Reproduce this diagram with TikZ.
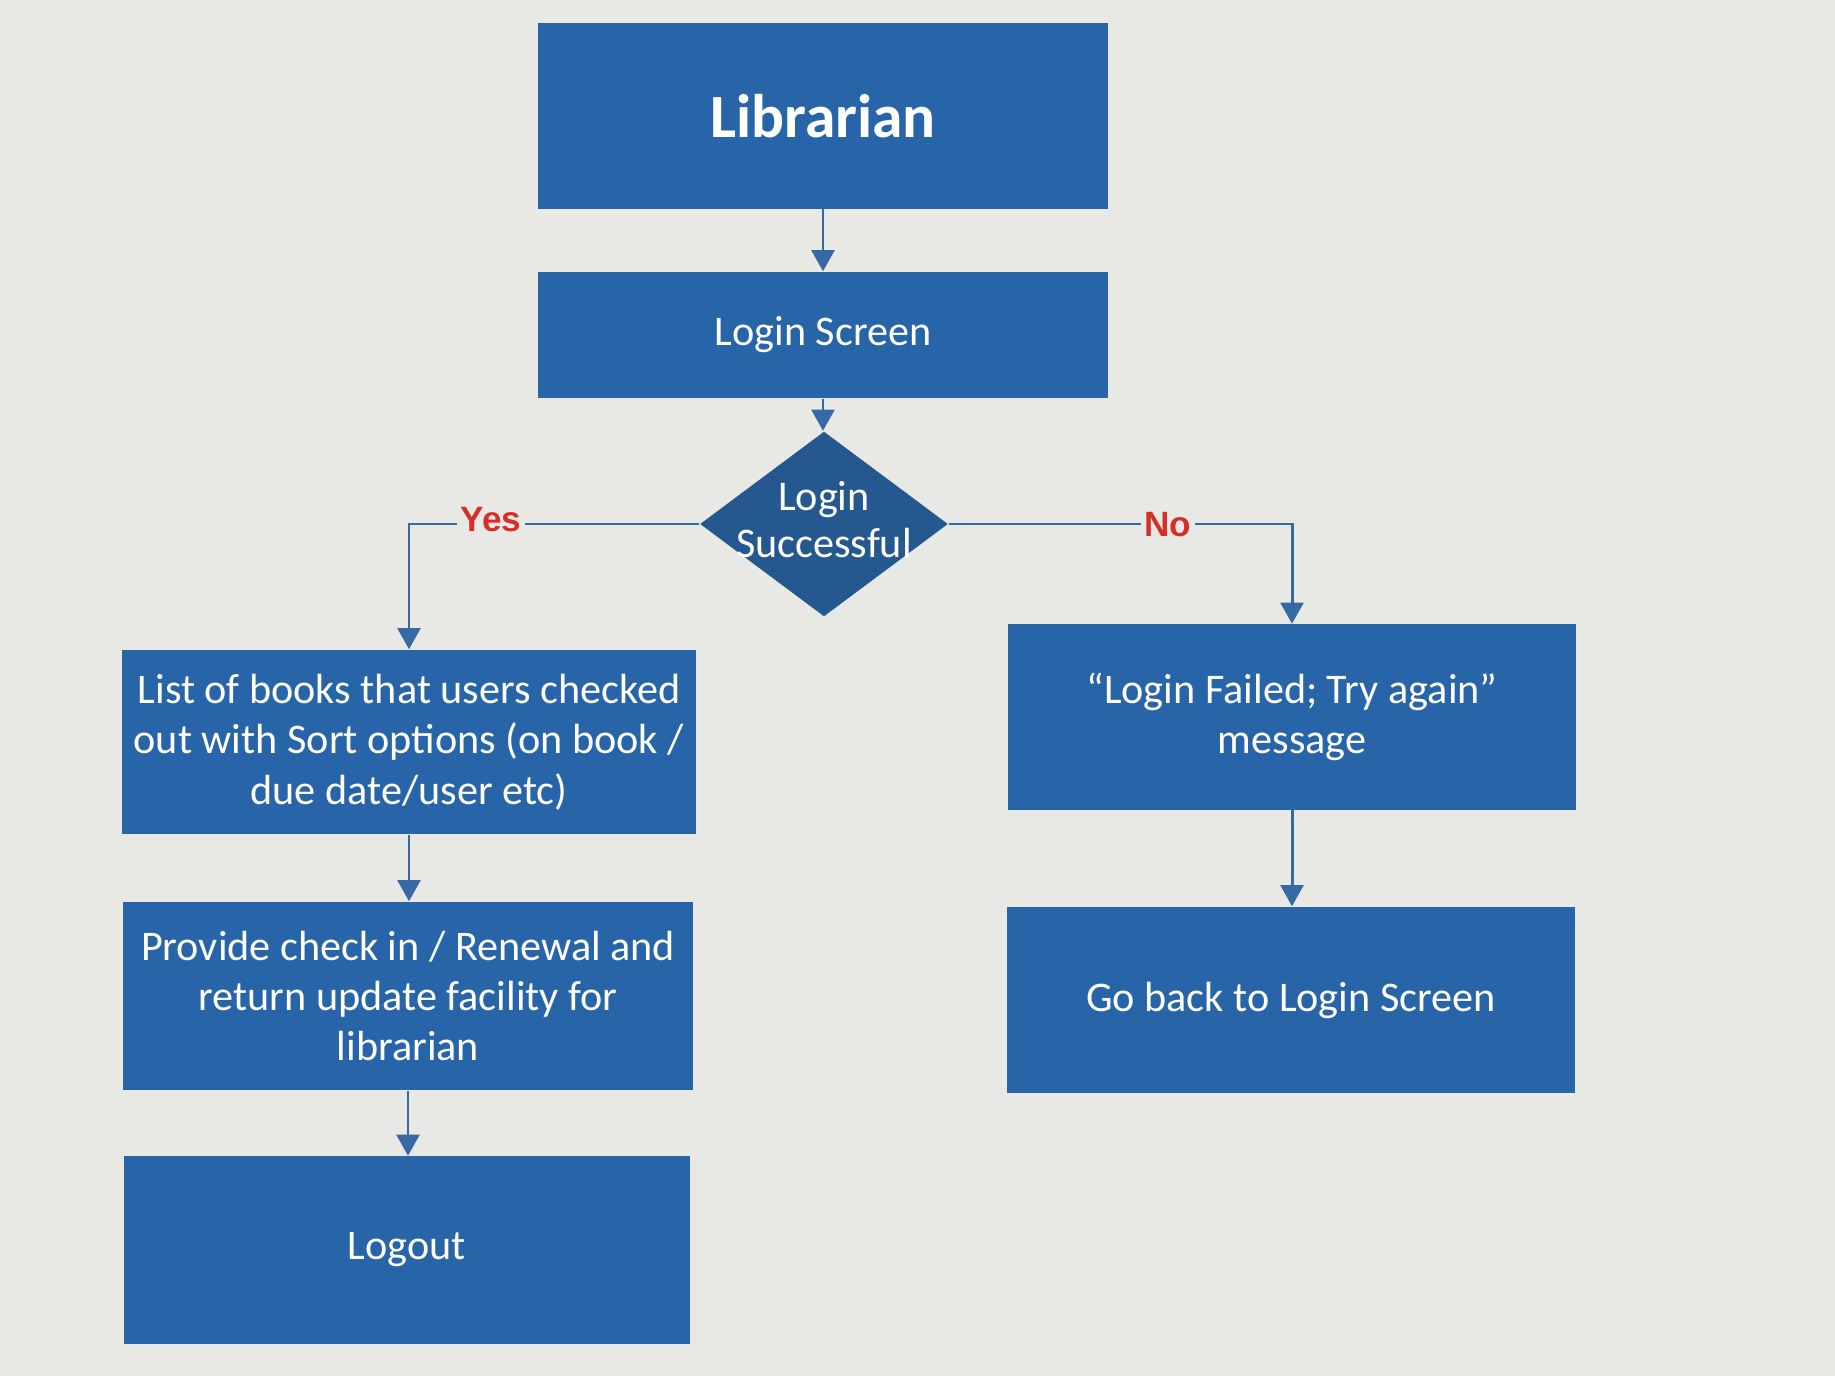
\documentclass[tikz,border=0pt]{standalone}
\usepackage{fontspec}
\setmainfont{Carlito}
\newfontfamily\labfont{Liberation Sans}
\usetikzlibrary{shapes.geometric,arrows.meta}
\definecolor{bgc}{RGB}{232,232,228}
\definecolor{boxc}{RGB}{40,100,168}
\definecolor{diac}{RGB}{36,88,142}
\definecolor{linec}{RGB}{55,105,165}
\definecolor{redc}{RGB}{212,48,40}
\tikzset{
  box/.style={draw=none, fill=boxc, text=white, align=center, inner sep=0pt,
    font=\fontsize{12}{14.3}\selectfont},
  dia/.style={diamond, fill=diac, text=white, inner sep=0pt,
    minimum width=2.48cm, minimum height=1.85cm,
    font=\fontsize{12}{14.3}\selectfont},
  conn/.style={draw=linec, line width=0.85pt, -{Triangle[width=6.5pt,length=6pt]}},
  lab/.style={fill=bgc, text=redc, inner sep=1pt, font=\labfont\bfseries\fontsize{10}{12}\selectfont}
}
\begin{document}
\begin{tikzpicture}[x=0.01cm,y=-0.01cm]
\fill[bgc] (0,0) rectangle (1835,1376);
\useasboundingbox (0,0) rectangle (1835,1376);

\node[box, minimum width=5.70cm, minimum height=1.85cm, font=\bfseries\fontsize{17.5}{20}\selectfont] (lib) at (823,116) {Librarian};
\node[box, minimum width=5.70cm, minimum height=1.26cm] (login) at (823,335) {Login Screen};
\node[dia] (succ) at (824,524) {\makebox[0pt]{\begin{tabular}{@{}c@{}}Login\\[-1pt]Successful\end{tabular}}};
\node[box, minimum width=5.73cm, minimum height=1.84cm] (list) at (409,742) {List of books that users checked\\out with Sort options (on book /\\due date/user etc)};
\node[box, minimum width=5.70cm, minimum height=1.88cm] (prov) at (408,996) {Provide check in / Renewal and\\return update facility for\\librarian};
\node[box, minimum width=5.66cm, minimum height=1.87cm] (logout) at (407,1250) {Logout};
\node[box, minimum width=5.68cm, minimum height=1.85cm] (fail) at (1292,717) {``Login Failed; Try again''\\message};
\node[box, minimum width=5.68cm, minimum height=1.86cm] (back) at (1291,1000) {Go back to Login Screen};

\draw[conn] (lib.south) -- (lib.south |- login.north);
\draw[conn] (login.south) -- (login.south |- succ.north);
\draw[conn] (succ.west) -| (list.north);
\draw[conn] (succ.east) -| (fail.north);
\draw[conn] (list.south) -- (list.south |- prov.north);
\draw[conn] (prov.south) -- (prov.south |- logout.north);
\draw[conn] (fail.south) -- (fail.south |- back.north);

\node[lab] (yes) at (491,520) {Yes};
\node[lab] (no) at (1168,525) {No};
\end{tikzpicture}
\end{document}
